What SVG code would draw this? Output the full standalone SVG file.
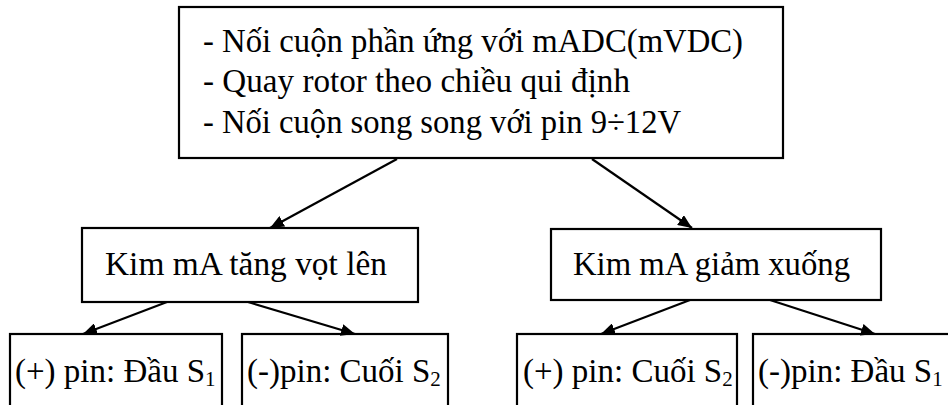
<svg xmlns="http://www.w3.org/2000/svg" width="948" height="405" viewBox="0 0 948 405">
<style>
.box{fill:#fff;stroke:#000;stroke-width:2.2}
.t{font-family:"Liberation Serif","Times New Roman",serif;font-size:33px;fill:#000}
.sub{font-size:21px}
.c{stroke:#000;stroke-width:2.2;fill:none;marker-end:url(#ah)}
</style>
<defs>
<marker id="ah" viewBox="0 0 14 12" refX="14" refY="6" markerWidth="14" markerHeight="12" markerUnits="userSpaceOnUse" orient="auto">
<path d="M0,0 L14,6 L0,12 Z" fill="#000"/>
</marker>
</defs>
<rect width="948" height="405" fill="#fff"/>
<g id="top">
<rect class="box" x="179" y="7" width="604" height="151"/>
<text class="t" x="203" y="52" textLength="540" lengthAdjust="spacingAndGlyphs">- Nối cuộn phần ứng với mADC(mVDC)</text>
<text class="t" x="203" y="92" textLength="427" lengthAdjust="spacingAndGlyphs">- Quay rotor theo chiều qui định</text>
<text class="t" x="203" y="133" textLength="478" lengthAdjust="spacingAndGlyphs">- Nối cuộn song song với pin 9÷12V</text>
</g>
<g id="mid-left">
<rect class="box" x="82" y="228" width="336" height="74"/>
<text class="t" x="105" y="275" textLength="282" lengthAdjust="spacingAndGlyphs">Kim mA tăng vọt lên</text>
</g>
<g id="mid-right">
<rect class="box" x="551" y="229" width="330" height="71"/>
<text class="t" x="573" y="275" textLength="277" lengthAdjust="spacingAndGlyphs">Kim mA giảm xuống</text>
</g>
<g id="b1">
<rect class="box" x="10" y="334" width="212" height="80"/>
<text class="t" x="15" y="382">(+) pin: Đầu S<tspan class="sub" dy="4">1</tspan></text>
</g>
<g id="b2">
<rect class="box" x="242" y="334" width="206" height="80"/>
<text class="t" x="247" y="382">(-)pin: Cuối S<tspan class="sub" dy="4">2</tspan></text>
</g>
<g id="b3">
<rect class="box" x="517" y="334" width="220" height="80"/>
<text class="t" x="523" y="382">(+) pin: Cuối S<tspan class="sub" dy="4">2</tspan></text>
</g>
<g id="b4">
<rect class="box" x="753" y="334" width="210" height="80"/>
<text class="t" x="758" y="382">(-)pin: Đầu S<tspan class="sub" dy="4">1</tspan></text>
</g>
<g id="connectors">
<line class="c" x1="397" y1="159" x2="270" y2="228"/>
<line class="c" x1="592" y1="159" x2="692" y2="228"/>
<line class="c" x1="167" y1="302" x2="83" y2="334"/>
<line class="c" x1="248" y1="302" x2="355" y2="334"/>
<line class="c" x1="690" y1="300" x2="601" y2="334"/>
<line class="c" x1="770" y1="300" x2="875" y2="334"/>
</g>
</svg>
